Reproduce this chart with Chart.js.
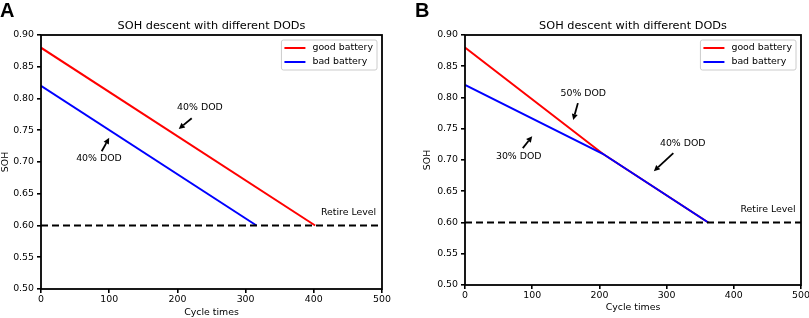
<!DOCTYPE html>
<html lang="en">
<head>
    <meta charset="UTF-8">
    <title>SOH descent with different DODs</title>
    <script src="https://cdn.jsdelivr.net/npm/chart.js"></script>
    <style>
        html, body { margin: 0; padding: 0; background: #fff; overflow: hidden; width: 809px; height: 318px; }
        .panel { position: absolute; top: 0; }
    </style>
</head>
<body>
    <canvas id="chartA" class="panel" width="405" height="318" style="left:0"></canvas>
    <canvas id="chartB" class="panel" width="412" height="318" style="left:405px"></canvas>

    <script>
        // panel A: both batteries at 40% DOD
        const cycleGoodA = [0, 402];
        const sohGoodA = [0.88, 0.60];
        const cycleBadA = [0, 316];
        const sohBadA = [0.82, 0.60];

        // panel B: good 50% -> 40% DOD, bad 30% -> 40% DOD
        const cycleGoodB = [0, 205, 362];
        const sohGoodB = [0.88, 0.71, 0.60];
        const cycleBadB = [0, 205, 362];
        const sohBadB = [0.82, 0.71, 0.60];

        const retireCycles = [0, 500];
        const retireLevel = [0.60, 0.60];

        const xTicks = [0, 100, 200, 300, 400, 500];
        const yTicks = [0.50, 0.55, 0.60, 0.65, 0.70, 0.75, 0.80, 0.85, 0.90];

        // notes: [text, textX, textY, arrowTailX, arrowTailY, arrowTipX, arrowTipY]
        const notesA = [
            ["40% DOD", 233, 0.785, 221, 0.769, 202, 0.752],
            ["40% DOD", 85, 0.706, 89, 0.717, 100, 0.738]
        ];
        const notesB = [
            ["50% DOD", 176, 0.806, 168, 0.791, 161, 0.764],
            ["30% DOD", 80, 0.706, 86, 0.719, 100, 0.738],
            ["40% DOD", 324, 0.726, 310, 0.711, 281, 0.682]
        ];
        const retireLabel = ["Retire Level", 451, 0.621];

        const titleText = "SOH descent with different DODs";
        const legendNames = ["good battery", "bad battery"];
        const lineColors = ["#ff0000", "#0000ff"];

        const FONT = "'DejaVu Sans', sans-serif";
        Chart.defaults.color = "#000";
        Chart.defaults.font.family = FONT;
        Chart.defaults.font.size = 9.4;

        function pts(xs, ys) {
            return xs.map((x, i) => ({ x: x, y: ys[i] }));
        }

        function drawArrow(ctx, x1, y1, x2, y2) {
            const ang = Math.atan2(y2 - y1, x2 - x1);
            const hl = 6, hw = 3;
            const bx = x2 - hl * Math.cos(ang), by = y2 - hl * Math.sin(ang);
            ctx.beginPath();
            ctx.moveTo(x1, y1);
            ctx.lineTo(bx, by);
            ctx.lineWidth = 1.8;
            ctx.strokeStyle = "#000";
            ctx.stroke();
            ctx.beginPath();
            ctx.moveTo(x2, y2);
            ctx.lineTo(bx + hw * Math.sin(ang), by - hw * Math.cos(ang));
            ctx.lineTo(bx - hw * Math.sin(ang), by + hw * Math.cos(ang));
            ctx.closePath();
            ctx.fillStyle = "#000";
            ctx.fill();
        }

        function decorPlugin(letter, letterX, notes) {
            return {
                id: "decor" + letter,
                afterDraw(chart) {
                    const ctx = chart.ctx;
                    const a = chart.chartArea;
                    const xs = chart.scales.x, ys = chart.scales.y;
                    ctx.save();

                    // frame
                    ctx.strokeStyle = "#000";
                    ctx.lineWidth = 1.8;
                    ctx.strokeRect(a.left, a.top, a.right - a.left, a.bottom - a.top);

                    // title
                    ctx.fillStyle = "#000";
                    ctx.textAlign = "center";
                    ctx.textBaseline = "middle";
                    ctx.font = "11.3px " + FONT;
                    ctx.fillText(titleText, (a.left + a.right) / 2, 26);

                    // panel letter
                    ctx.textAlign = "left";
                    ctx.textBaseline = "top";
                    ctx.font = "bold 20px 'Liberation Sans', Arial, sans-serif";
                    ctx.fillText(letter, letterX, 1);

                    // annotations
                    ctx.font = "9.4px " + FONT;
                    ctx.textAlign = "center";
                    ctx.textBaseline = "middle";
                    notes.forEach(n => {
                        ctx.fillStyle = "#000";
                        ctx.fillText(n[0], xs.getPixelForValue(n[1]), ys.getPixelForValue(n[2]));
                        drawArrow(ctx, xs.getPixelForValue(n[3]), ys.getPixelForValue(n[4]),
                            xs.getPixelForValue(n[5]), ys.getPixelForValue(n[6]));
                    });
                    ctx.fillStyle = "#000";
                    ctx.fillText(retireLabel[0], xs.getPixelForValue(retireLabel[1]), ys.getPixelForValue(retireLabel[2]));

                    // legend
                    ctx.font = "9.4px " + FONT;
                    const tw = Math.max(...legendNames.map(t => ctx.measureText(t).width));
                    const bw = 3 + 21 + 7 + tw + 4, bh = 30;
                    const bx = a.right - 5 - bw, by = a.top + 5;
                    ctx.beginPath();
                    ctx.roundRect(bx, by, bw, bh, 2);
                    ctx.fillStyle = "rgba(255,255,255,0.8)";
                    ctx.fill();
                    ctx.strokeStyle = "#cccccc";
                    ctx.lineWidth = 1;
                    ctx.stroke();
                    ctx.textAlign = "left";
                    legendNames.forEach((name, i) => {
                        const ry = by + 8 + i * 14;
                        ctx.beginPath();
                        ctx.moveTo(bx + 3, ry);
                        ctx.lineTo(bx + 24, ry);
                        ctx.strokeStyle = lineColors[i];
                        ctx.lineWidth = 2;
                        ctx.stroke();
                        ctx.fillStyle = "#000";
                        ctx.fillText(name, bx + 31, ry);
                    });
                    ctx.restore();
                }
            };
        }

        function makeChart(id, good, bad, opts) {
            return new Chart(document.getElementById(id), {
                type: "line",
                data: {
                    datasets: [
                        { label: legendNames[0], data: good, borderColor: lineColors[0], borderWidth: 2, pointRadius: 0, order: 2 },
                        { label: legendNames[1], data: bad, borderColor: lineColors[1], borderWidth: 2, pointRadius: 0, order: 1 },
                        { label: "Retire Level", data: pts(retireCycles, retireLevel), borderColor: "#000", borderWidth: 2,
                          borderDash: [7, 4], pointRadius: 0, order: 0 }
                    ]
                },
                options: {
                    responsive: false,
                    animation: false,
                    devicePixelRatio: 1,
                    layout: { padding: opts.padding },
                    plugins: { legend: { display: false }, tooltip: { enabled: false }, title: { display: false } },
                    scales: {
                        x: {
                            type: "linear", min: 0, max: 500,
                            afterBuildTicks: s => { s.ticks = xTicks.map(v => ({ value: v })); },
                            ticks: { padding: 1, font: { size: 9.4 }, maxRotation: 0 },
                            grid: { drawOnChartArea: false, tickLength: 4, color: "#000", lineWidth: 1.6 },
                            border: { display: false },
                            title: { display: true, text: "Cycle times", font: { size: 9.4 }, padding: 0 },
                            afterFit: s => { s.height = opts.xHeight; }
                        },
                        y: {
                            type: "linear", min: 0.5, max: 0.9,
                            afterBuildTicks: s => { s.ticks = yTicks.map(v => ({ value: v })); },
                            ticks: { padding: 3, font: { size: 9.4 }, callback: v => v.toFixed(2) },
                            grid: { drawOnChartArea: false, tickLength: 4, color: "#000", lineWidth: 1.6 },
                            border: { display: false },
                            title: { display: true, text: "SOH", font: { size: 9.4 }, padding: 0 },
                            afterFit: s => { s.width = opts.yWidth; }
                        }
                    }
                },
                plugins: [decorPlugin(opts.letter, opts.letterX, opts.notes)]
            });
        }

        makeChart("chartA", pts(cycleGoodA, sohGoodA), pts(cycleBadA, sohBadA), {
            padding: { left: 0, top: 35, right: 23, bottom: 0 },
            xHeight: 29, yWidth: 41, letter: "A", letterX: 0, notes: notesA
        });
        makeChart("chartB", pts(cycleGoodB, sohGoodB), pts(cycleBadB, sohBadB), {
            padding: { left: 17, top: 35, right: 16, bottom: 5 },
            xHeight: 28, yWidth: 43, letter: "B", letterX: 10, notes: notesB
        });
    </script>
</body>
</html>
